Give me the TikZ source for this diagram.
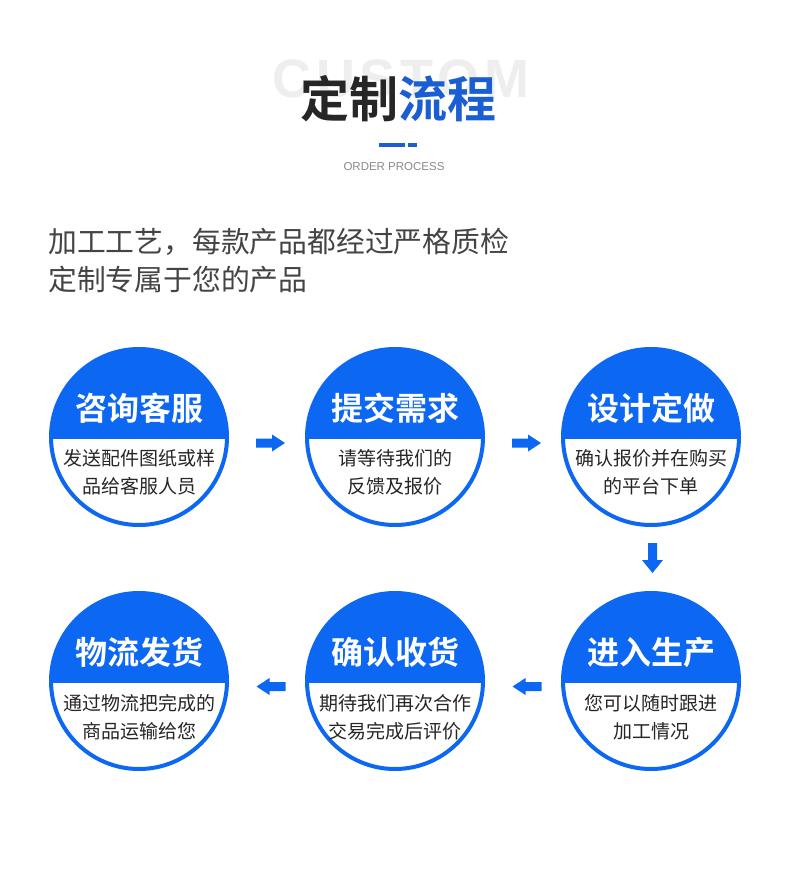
\documentclass[tikz,border=0pt]{standalone}
\usepackage{fontspec}
\usetikzlibrary{calc}
\newfontfamily\cjk{Noto Sans CJK SC}[BoldFont={Noto Sans CJK SC Bold}]
\newfontfamily\latinsans{Liberation Sans}
\newfontfamily\latinwide{Liberation Sans}[LetterSpace=9]
\definecolor{cblue}{HTML}{0C68F3}
\definecolor{tblue}{HTML}{1B5ED2}
\definecolor{ghost}{HTML}{EEEEEE}
\definecolor{bodygray}{HTML}{444444}
\definecolor{subgray}{HTML}{8A8A8A}
\definecolor{darktext}{HTML}{262626}
\tikzset{
  ring/.style={circle, minimum size=176pt, inner sep=0pt, draw=cblue, line width=4pt},
  stitle/.style={font=\cjk\bfseries\fontsize{32}{32}\selectfont, text=white, inner sep=0pt},
  sline/.style={font=\cjk\fontsize{19}{19}\selectfont, text=darktext, inner sep=0pt},
  barrow/.style={fill=cblue},
}
\newcommand\stepcirc[7]{%
  \coordinate (#1) at (#2,#3);
  \begin{scope}
    \clip (#1) circle (88pt);
    \fill[cblue] ($(#1)+(-95,-95)$) rectangle ($(#1)+(95,2)$);
  \end{scope}
  \node[ring] (#1ring) at (#1) {};
  \node[stitle] (#1t) at ($(#1)+(0,-29)$) {#5};
  \node[sline] (#1a) at ($(#1)+(0,#4)$) {#6};
  \node[sline] (#1b) at ($(#1)+(0,#4+28.5)$) {#7};
}
\begin{document}
\begin{tikzpicture}[x=1pt,y=-1pt]
\useasboundingbox (0,0) rectangle (790,875);
\fill[white] (0,0) rectangle (790,875);

% header
\node[font=\latinwide\bfseries\fontsize{54}{54}\selectfont, text=ghost, anchor=base, inner sep=0pt] (ghosttxt) at (401,97.5) {CUSTOM};
\node[font=\cjk\bfseries\fontsize{49}{49}\selectfont, text=darktext, inner sep=0pt] (title) at (398.5,99) {定制\textcolor{tblue}{流程}};
\fill[tblue] (379,143) rectangle (405,147);
\fill[tblue] (408,143) rectangle (417,147);
\node[font=\latinsans\fontsize{11.5}{11.5}\selectfont, text=subgray, inner sep=0pt] (order) at (394,167) {ORDER PROCESS};

% intro text
\node[font=\cjk\fontsize{28.8}{28.8}\selectfont, text=bodygray, anchor=west, inner sep=0pt] (intro1) at (48,242) {加工工艺，每款产品都经过严格质检};
\node[font=\cjk\fontsize{28.8}{28.8}\selectfont, text=bodygray, anchor=west, inner sep=0pt] (intro2) at (48,280) {定制专属于您的产品};

% steps
\stepcirc{s1}{139}{437}{21}{咨询客服}{发送配件图纸或样}{品给客服人员}
\stepcirc{s2}{395}{437}{21}{提交需求}{请等待我们的}{反馈及报价}
\stepcirc{s3}{651}{437}{21}{设计定做}{确认报价并在购买}{的平台下单}
\stepcirc{s4}{651}{681}{22}{进入生产}{您可以随时跟进}{加工情况}
\stepcirc{s5}{395}{681}{22}{确认收货}{期待我们再次合作}{交易完成后评价}
\stepcirc{s6}{139}{681}{22}{物流发货}{通过物流把完成的}{商品运输给您}

% block arrows
\fill[barrow, shift={(270.5,443)}] (-14.5,-4.5) -- (1.5,-4.5) -- (1.5,-8.5) -- (14.5,0) -- (1.5,8.5) -- (1.5,4.5) -- (-14.5,4.5) -- cycle;
\fill[barrow, shift={(526.5,443)}] (-14.5,-4.5) -- (1.5,-4.5) -- (1.5,-8.5) -- (14.5,0) -- (1.5,8.5) -- (1.5,4.5) -- (-14.5,4.5) -- cycle;
\fill[barrow, shift={(652.5,558)}] (-4.5,-15) -- (4.5,-15) -- (4.5,2) -- (10.5,2) -- (0,15) -- (-10.5,2) -- (-4.5,2) -- cycle;
\fill[barrow, shift={(527,686.5)}] (14.5,-4.5) -- (-1.5,-4.5) -- (-1.5,-8.5) -- (-14.5,0) -- (-1.5,8.5) -- (-1.5,4.5) -- (14.5,4.5) -- cycle;
\fill[barrow, shift={(271,686.5)}] (14.5,-4.5) -- (-1.5,-4.5) -- (-1.5,-8.5) -- (-14.5,0) -- (-1.5,8.5) -- (-1.5,4.5) -- (14.5,4.5) -- cycle;
\end{tikzpicture}
\end{document}
